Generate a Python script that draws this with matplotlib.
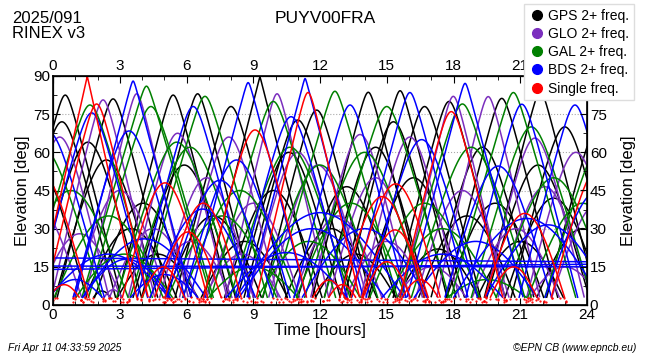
import numpy as np
import matplotlib
matplotlib.use('Agg')
import matplotlib.pyplot as plt
from matplotlib.lines import Line2D

plt.rcParams['font.family'] = ['Liberation Sans', 'DejaVu Sans']

# arc peaks: peak time [h], peak elevation [deg], half span [h]
gps_h = [-0.9, 0.4, 0.55, 1.57, 2.2, 2.4, 2.7, 3.5, 4.05, 4.7, 5.4, 5.9, 6.5, 7.2, 8.0, 8.6, 9.3,
         9.9, 10.6, 11.0, 11.85, 12.5, 13.2, 13.6, 14.17, 14.5, 15.3, 15.6, 16.2, 16.7, 17.3,
         17.8, 18.6, 19.3, 19.87, 20.17, 21.0, 21.8, 21.9, 22.5, 23.0, 23.8, 24.6]
gps_e = [60, 72, 82.5, 64, 5.5, 57, 81, 30, 40, 20, 82.5, 55, 83, 35, 78, 25, 89.5,
         45, 60, 72.7, 76.6, 30, 46.5, 20, 83.6, 62, 72, 84.2, 50, 78, 22,
         80, 35, 62, 40, 81.2, 25, 55, 84, 42, 70, 30, 72]
gps_w = [2.5, 2.5, 2.6, 2.5, 0.6, 2.4, 2.6, 2.2, 2.3, 2.0, 2.6, 2.4, 2.6, 2.3, 2.6, 2.1, 2.6,
         2.3, 2.4, 2.5, 2.5, 2.2, 2.3, 2.0, 2.6, 2.4, 2.5, 2.6, 2.4, 2.6, 2.0,
         2.6, 2.3, 2.4, 2.3, 2.6, 2.1, 2.4, 2.6, 2.3, 2.5, 2.2, 2.5]

glo_h = [-0.8, 0.3, 1.2, 2.25, 2.7, 3.0, 3.76, 4.5, 5.6, 6.2, 6.9, 7.9, 8.5, 9.0, 10.07, 11.0,
         11.9, 12.8, 13.8, 14.5, 15.0, 16.04, 17.0, 17.99, 18.4, 19.56, 20.8, 21.66, 22.1,
         23.0, 23.5, 24.5]
glo_e = [40, 66, 28, 80.6, 6, 45, 83, 30, 67.5, 25, 50, 66, 20, 40, 83, 60,
         55, 35, 67, 50, 25, 66, 15, 82, 45, 81.9, 30, 65.6, 46.5,
         15, 60, 40]
glo_w = [2.2, 2.3, 2.0, 2.4, 0.6, 2.2, 2.4, 2.1, 2.3, 2.0, 2.2, 2.3, 1.9, 2.2, 2.4, 2.3,
         2.3, 2.1, 2.3, 2.2, 2.0, 2.3, 1.8, 2.4, 2.2, 2.4, 2.1, 2.3, 2.2,
         1.8, 2.3, 2.2]

gal_h = [-0.5, 0.8, 1.66, 2.5, 3.2, 4.2, 4.4, 5.56, 6.16, 6.83, 7.6, 8.4, 9.0, 9.9, 10.65,
         11.5, 12.0, 12.67, 13.4, 14.0, 15.0, 16.7, 17.5, 18.4, 18.8, 19.5, 20.69, 21.5,
         22.5, 23.8, 24.8]
gal_e = [62, 45, 78.6, 35, 20, 86, 78, 64, 62, 82, 35, 45, 15, 80, 62,
         25, 55, 84, 40, 60, 78, 40, 30, 79, 62, 10, 83.5, 70,
         50, 40, 65]
gal_w = [2.8, 2.7, 2.9, 2.6, 2.4, 3.0, 2.9, 2.8, 2.8, 2.9, 2.6, 2.7, 2.3, 2.9, 2.8,
         2.5, 2.7, 2.9, 2.6, 2.8, 2.9, 2.6, 2.6, 2.9, 2.8, 2.2, 2.9, 2.8,
         2.7, 2.6, 2.8]

bds_h = [-0.2, 1.0, 1.74, 2.5, 3.3, 3.42, 3.6, 4.1, 5.0, 6.3, 6.73, 7.5, 8.25, 8.77, 10.5,
         10.7, 11.33, 11.63, 12.0, 13.35, 14.0, 16.04, 16.57, 17.5, 18.52, 19.0, 20.01,
         21.07, 21.3, 22.25, 23.46, 24.5]
bds_e = [68, 10, 75.5, 20, 18, 68.4, 88, 26, 12, 78, 37.7, 49, 57, 87.4, 20.6,
         74, 89, 30, 36.3, 78.6, 30, 83.5, 65, 20, 87.1, 25, 54.6,
         78.9, 34, 31.5, 78.6, 45]
bds_w = [2.6, 1.5, 2.6, 3.0, 2.2, 2.6, 2.7, 3.0, 1.8, 2.6, 2.5, 2.5, 2.5, 2.7, 3.0,
         2.6, 2.7, 3.5, 4.0, 2.6, 3.0, 2.7, 2.6, 3.0, 2.7, 3.0, 2.5,
         2.6, 3.5, 3.0, 2.6, 2.5]

# geostationary BDS: elevation at 0 h and at 24 h
geo_start = [18.5, 15.3, 14.0]
geo_end = [17.0, 15.0, 16.0]

single_h = [-0.6, 0.5, 1.54, 1.96, 4.95, 5.03, 6.07, 6.75, 9.08, 11.46, 12.4, 13.0, 14.8,
            15.4, 15.37, 15.0, 16.5, 17.9, 20.7, 21.2, 24.6]
single_e = [53, 8, 89.7, 79, 15, 48, 28.7, 40, 68.8, 83.5, 9.8, 8, 42.6,
            47.6, 29.5, 17, 10, 76, 15, 36, 55]
single_w = [2.3, 0.9, 2.3, 2.4, 1.1, 2.0, 1.6, 1.8, 2.4, 2.4, 0.9, 0.8, 2.0,
            2.1, 1.6, 1.2, 1.0, 2.4, 1.2, 1.9, 2.3]

labels = ['GPS 2+ freq.', 'GLO 2+ freq.', 'GAL 2+ freq.', 'BDS 2+ freq.', 'Single freq.']
colors = ['black', '#7b2fbe', '#008000', '#0000ff', '#ff0000']

t = np.linspace(0, 24, 2401)


def arc(tp, e0, span):
    dt = (t - tp) / span
    el = np.degrees(np.arcsin(np.sin(np.radians(e0)) *
                              np.cos(np.pi / 2 * np.clip(dt, -1, 1))))
    el[np.abs(dt) >= 1] = np.nan
    return el


def draw(ax, hs, es, ws, color):
    for tp, e0, w in zip(hs, es, ws):
        el = arc(tp, e0, w)
        ax.plot(t, np.where(el >= 3, el, np.nan), color=color, lw=1.1)
        lo = np.where((el > 1) & (el < 3), el, np.nan)
        ax.plot(t[::9], lo[::9], '.', color='red', ms=1.2)


def style_ticks(a):
    a.tick_params(which='both', direction='in', labelsize=11, pad=2)
    a.tick_params(which='major', length=5)
    a.tick_params(which='minor', length=3)


fig = plt.figure(figsize=(6.5, 3.6), dpi=100)
ax = fig.add_axes([53 / 650, 55 / 360, 534 / 650, 229 / 360])

draw(ax, gps_h, gps_e, gps_w, colors[0])
draw(ax, glo_h, glo_e, glo_w, colors[1])
draw(ax, gal_h, gal_e, gal_w, colors[2])
draw(ax, bds_h, bds_e, bds_w, colors[3])
for e_a, e_b in zip(geo_start, geo_end):
    ax.plot([0, 24], [e_a, e_b], color=colors[3], lw=1.1)
draw(ax, single_h, single_e, single_w, colors[4])

ax.set_xlim(0, 24)
ax.set_ylim(0, 90)
ax.set_xticks(np.arange(0, 25, 3))
ax.set_xticks(np.arange(0, 25, 1), minor=True)
ax.set_yticks(np.arange(0, 91, 15))
ax.set_yticks(np.arange(0, 91, 7.5), minor=True)
ax.grid(axis='y', which='major', linestyle=':', color='#aaaaaa', lw=0.8)
style_ticks(ax)
ax.tick_params(top=False, right=False, labeltop=False)
ax.set_xlabel('Time [hours]', fontsize=12, labelpad=1)
ax.set_ylabel('Elevation [deg]', fontsize=12, labelpad=2)
for s in ax.spines.values():
    s.set_linewidth(1.2)

# right axis: "90" sits under the legend in the original
ax2 = ax.twinx()
ax2.set_ylim(0, 90)
ax2.set_yticks(np.arange(0, 91, 15))
ax2.set_yticks(np.arange(0, 91, 7.5), minor=True)
ax2.set_yticklabels([str(v) for v in range(0, 76, 15)] + [''])
style_ticks(ax2)
ax2.set_ylabel('Elevation [deg]', fontsize=12, labelpad=10)

# top axis: "24" sits under the legend too
top_labels = [str(v) for v in range(0, 25, 3)]
top_labels[-1] = ''
ax3 = ax.twiny()
ax3.set_xlim(0, 24)
ax3.set_xticks(np.arange(0, 25, 3))
ax3.set_xticklabels(top_labels)
ax3.set_xticks(np.arange(0, 25, 1), minor=True)
style_ticks(ax3)

handles = [Line2D([], [], marker='o', ls='none', color=c, ms=7) for c in colors]
fig.legend(handles, labels, loc='upper right', bbox_to_anchor=(634 / 650, 1 - 4 / 360),
           fontsize=10, frameon=True, fancybox=False, framealpha=1,
           edgecolor='#dddddd', handletextpad=0.2, labelspacing=0.3,
           borderpad=0.35, handlelength=1.2, borderaxespad=0)

fig.text(12 / 650, 1 - 11 / 360, '2025/091', fontsize=12, va='top')
fig.text(12 / 650, 1 - 26 / 360, 'RINEX v3', fontsize=12, va='top')
fig.text(0.5, 1 - 11 / 360, 'PUYV00FRA', fontsize=12.5, va='top', ha='center')
fig.text(8 / 650, 1 - 348 / 360, 'Fri Apr 11 04:33:59 2025', fontsize=7.5,
         style='italic', va='center')
fig.text(636 / 650, 1 - 348 / 360, '\u00a9EPN CB (www.epncb.eu)', fontsize=7.5,
         style='italic', va='center', ha='right')

fig.savefig('out.png', dpi=100)
